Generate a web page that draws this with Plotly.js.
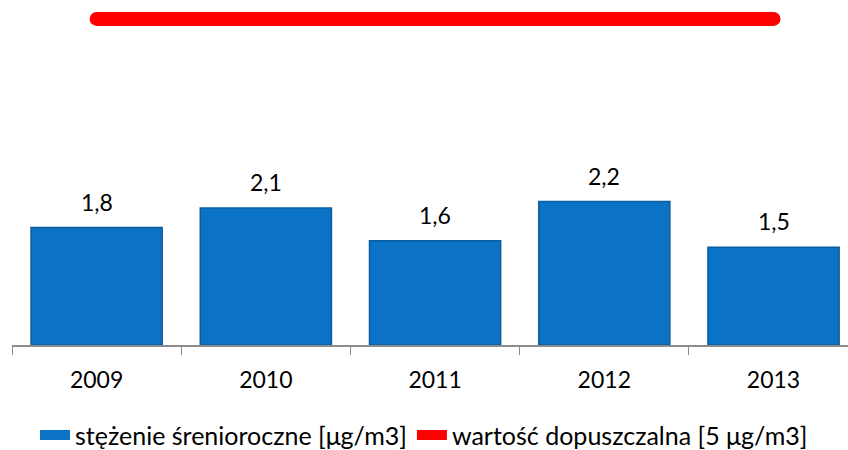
<!DOCTYPE html>
<html>
<head>
<meta charset="utf-8">
<script src="https://cdn.plot.ly/plotly-3.0.1.min.js"></script>
<style>
  body { margin: 0; background: #fff; }
  #chart { width: 848px; height: 450px; }
</style>
</head>
<body>
<div id="chart"></div>
<script>
var years = ['2009', '2010', '2011', '2012', '2013'];
var stezenie = [1.8, 2.1, 1.6, 2.2, 1.5];
var limitYears = ['2009', '2013'];
var limitValue = [5, 5];

var barName = 'stężenie śrenioroczne [μg/m3]';
var lineName = 'wartość dopuszczalna [5 μg/m3]';
var barColor = '#0a73c6';
var lineColor = '#ff0000';

var bars = {
    x: years,
    y: stezenie,
    type: 'bar',
    name: barName,
    showlegend: false,
    marker: {
        color: barColor,
        line: {color: '#0b5d9f', width: 1.5}
    },
    hoverinfo: 'skip'
};

// legend entry for the bars: wide flat blue swatch like the original
var barKey = {
    x: [years[0]],
    y: [null],
    type: 'scatter',
    mode: 'lines',
    name: barName,
    line: {color: barColor, width: 10},
    hoverinfo: 'skip'
};

var line = {
    x: limitYears,
    y: limitValue,
    type: 'scatter',
    mode: 'lines',
    name: lineName,
    line: {color: lineColor, width: 14},
    hoverinfo: 'skip'
};

// round ends of the red line
var lineCaps = {
    x: limitYears,
    y: limitValue,
    type: 'scatter',
    mode: 'markers',
    showlegend: false,
    marker: {color: lineColor, size: 14},
    hoverinfo: 'skip'
};

// value labels above bars (x by category index, '2009' would be read as a number)
var labels = years.map(function(yr, i){
    return {
        x: i,
        y: stezenie[i],
        text: stezenie[i].toFixed(1).replace('.', ','),
        showarrow: false,
        yanchor: 'middle',
        yshift: 26,
        font: {size: 23, color: '#000'}
    };
});

var layout = {
    width: 848,
    height: 450,
    margin: {l: 12, r: 0, t: 0, b: 105},
    paper_bgcolor: '#fff',
    plot_bgcolor: '#fff',
    font: {family: 'Lato, sans-serif', size: 23, color: '#000'},
    bargap: 0.225,
    showlegend: true,
    annotations: labels,
    xaxis: {
        type: 'category',
        range: [-0.5, 4.44],
        showline: true,
        linecolor: '#8c8c8c',
        linewidth: 1.5,
        ticks: 'outside',
        tickson: 'boundaries',
        ticklen: 8,
        tickcolor: '#8c8c8c',
        tickfont: {size: 23},
        ticklabelstandoff: 14,
        fixedrange: true
    },
    yaxis: {
        range: [0, 5.29],
        showgrid: false,
        zeroline: false,
        showticklabels: false,
        fixedrange: true
    },
    legend: {
        orientation: 'h',
        x: 0.5,
        xanchor: 'center',
        xref: 'container',
        yref: 'container',
        y: 0.033,
        yanchor: 'middle',
        font: {size: 25},
        itemwidth: 30,
        tracegroupgap: 0,
        traceorder: 'normal'
    }
};

Plotly.newPlot('chart', [bars, barKey, line, lineCaps], layout, {displayModeBar: false, staticPlot: true});
</script>
</body>
</html>
